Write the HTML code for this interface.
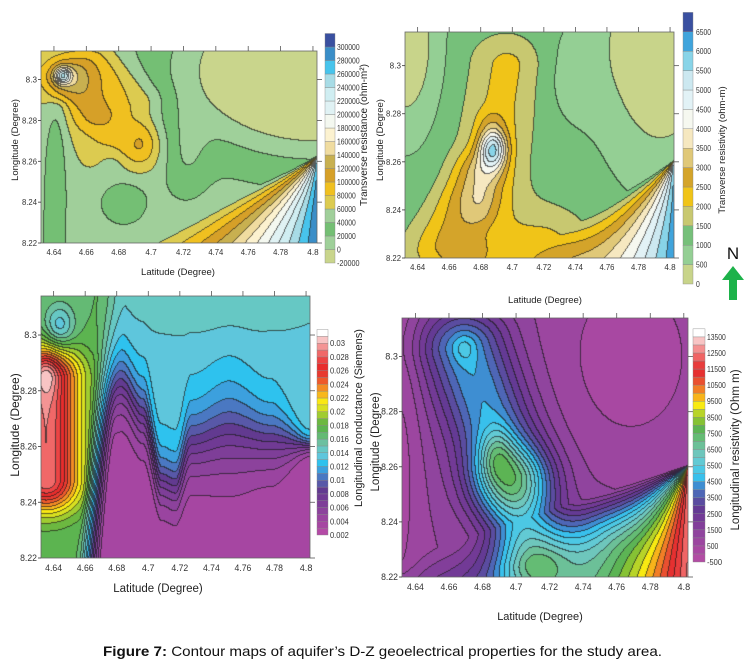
<!DOCTYPE html>
<html><head><meta charset="utf-8">
<style>
html,body{margin:0;padding:0;background:#fff;}
#wrap{position:relative;width:745px;height:662px;overflow:hidden;font-family:"Liberation Sans",sans-serif;}
canvas{position:absolute;}
svg{position:absolute;left:0;top:0;}
</style></head>
<body>
<div id="wrap">
<canvas id="c1"></canvas>
<canvas id="c2"></canvas>
<canvas id="c3"></canvas>
<canvas id="c4"></canvas>
<svg id="ov" width="745" height="662">
  <g>
    <text x="733" y="259" font-size="17" text-anchor="middle" fill="#111">N</text>
    <polygon points="733,266 744,280 737,280 737,300 729,300 729,280 722,280" fill="#1db24a"/>
  </g>
  <text x="103" y="656" font-size="14" fill="#111" textLength="559" lengthAdjust="spacingAndGlyphs"><tspan font-weight="bold">Figure 7:</tspan> Contour maps of aquifer’s D-Z geoelectrical properties for the study area.</text>
</svg>
</div>
<script>
// ---- shared axis data ----
const xTicks = [4.64,4.66,4.68,4.7,4.72,4.74,4.76,4.78,4.8];
const yTicks = [8.22,8.24,8.26,8.28,8.3];
const xDomain = [4.632,4.8025];
const yDomain = [8.22,8.314];

// ---- colorbar data ----
const cb1Levels = [-20000,0,20000,40000,60000,80000,100000,120000,140000,160000,180000,200000,220000,240000,260000,280000,300000];
const cb1Colors = ['#c9d58c','#9fd09a','#74bf74','#a0cf9a','#dccb50','#f0c020','#d6a028','#c8b050','#f0dca0','#fcf2d0','#f4f8f0','#e0f2f4','#d0eef2','#a8dce6','#48c4ec','#3a8ec8','#3a50a0'];
const cb2Levels = [0,500,1000,1500,2000,2500,3000,3500,4000,4500,5000,5500,6000,6500];
const cb2Colors = ['#c8d48a','#94cf94','#76c07a','#c8c870','#f0c418','#d4a42a','#e0c878','#f6e8c0','#f6f8f0','#e2f2f6','#cce8f0','#88d4e8','#40a4dc','#3a50a0'];
const cb3Labels = ['0.002','0.004','0.006','0.008','0.01','0.012','0.014','0.016','0.018','0.02','0.022','0.024','0.026','0.028','0.03'];
const cb3Colors = ['#b44aa6','#a646a2','#9a44a0','#8c429c','#7e3e98','#703a94','#623a90','#5858a8','#4a78c2','#3ca0de','#2ec2ee','#5ec6dc','#66c8c4','#6cc0a0','#64ba74','#5cb450','#6cb840','#a0cc30','#d8e020','#fae814','#f8b81c','#f48c24','#ee5a2c','#e83a30','#e82c2c','#ec4444','#f06868','#f49494','#f8c4c4','#ffffff'];
const cb4Labels = [-500,500,1500,2500,3500,4500,5500,6500,7500,8500,9500,10500,11500,12500,13500];
const cb4Colors = ['#b24ca4','#a848a2','#9c46a0','#90449e','#823e9a','#723a96','#643a94','#5a4ca0','#4e66b6','#3e8ed2','#38c0ec','#4cc8e4','#62cad4','#6ec6bc','#6cc098','#64bc74','#5cb454','#86c234','#b8d428','#f8ea12','#f8b41a','#f27e26','#ea5030','#e63030','#e83c3c','#f06464','#f49090','#f8c4c4','#ffffff'];

const NS='http://www.w3.org/2000/svg';
const ov=document.getElementById('ov');
function mk(tag,attrs,parent){const e=document.createElementNS(NS,tag);for(const k in attrs)e.setAttribute(k,attrs[k]);(parent||ov).appendChild(e);return e;}

const panels=[
 {id:'c1',x:41,y:51,w:276,h:192,fs:8,colors:cb1Colors,
  terms:[{t:'base',a:3.5},{t:'g',x:1.0,y:0.1,sx:0.32,sy:0.28,a:-6},{t:'g',x:0.52,y:0.55,sx:0.06,sy:0.15,a:-1.3},
   {t:'seg',x1:0.06,y1:0.3,x2:0.05,y2:1.0,w:0.03,a:-1.2},
   {t:'seg',x1:0.12,y1:0.12,x2:0.3,y2:0.5,w:0.11,a:2.0},{t:'seg',x1:0.2,y1:0.05,x2:0.36,y2:0.25,w:0.06,a:1.0},
   {t:'seg',x1:0.1,y1:0.14,x2:0.2,y2:0.33,w:0.06,a:1.2},
   {t:'g',x:0.1,y:0.14,sx:0.06,sy:0.06,a:1.5},{t:'g',x:0.08,y:0.13,sx:0.02,sy:0.03,a:5.5},{t:'g',x:0.37,y:0.47,sx:0.04,sy:0.08,a:1.3},
   {t:'g',x:0.26,y:0.58,sx:0.04,sy:0.05,a:-1.0},
   {t:'g',x:0.3,y:0.78,sx:0.06,sy:0.09,a:-1.3},{t:'fan',px:1,py:0.55,p0:36,k:0.23}]},
 {id:'c2',x:405,y:32,w:269,h:226,fs:8,colors:cb2Colors,
  terms:[{t:'base',a:2.5},{t:'g',x:0,y:0.05,sx:0.09,sy:0.28,a:-2.5},{t:'g',x:0.95,y:0.0,sx:0.16,sy:0.42,a:-2.8},
   {t:'g',x:0.62,y:0.2,sx:0.08,sy:0.15,a:-0.8},
   {t:'seg',x1:0.38,y1:0.15,x2:0.3,y2:0.72,w:0.09,a:1.8},{t:'seg',x1:0.28,y1:1.0,x2:0.5,y2:0.98,w:0.13,a:2.2},
   {t:'seg',x1:0.18,y1:0.95,x2:0.28,y2:0.65,w:0.07,a:1.6},{t:'seg',x1:0.0,y1:1.05,x2:0.25,y2:0.6,w:0.06,a:0.8},
   {t:'seg',x1:0.32,y1:0.4,x2:0.28,y2:0.8,w:0.04,a:0.9},{t:'g',x:0.33,y:0.52,sx:0.035,sy:0.06,a:6},{t:'fan',px:1,py:0.57,p0:38,k:0.2}]},
 {id:'c3',x:41,y:296,w:269,h:262,fs:9,colors:cb3Colors,custom:true},
 {id:'c4',x:402,y:318,w:286,h:259,fs:9,colors:cb4Colors,
  terms:[{t:'base',a:3},{t:'g',x:0.8,y:0.15,sx:0.2,sy:0.3,a:-1.5},{t:'g',x:0,y:0.5,sx:0.05,sy:0.6,a:-1.3},
   {t:'seg',x1:0.22,y1:0.12,x2:0.38,y2:0.62,w:0.11,a:7},{t:'seg',x1:0.38,y1:0.62,x2:0.45,y2:0.93,w:0.09,a:6},
   {t:'seg',x1:0.5,y1:0.95,x2:0.7,y2:0.85,w:0.1,a:2},{t:'g',x:0.33,y:0.52,sx:0.04,sy:0.07,a:3},
   {t:'g',x:0.22,y:0.12,sx:0.03,sy:0.04,a:1.5},{t:'fan',px:1,py:0.57,p0:20,k:0.33}]}
];

function segD(u,v,x1,y1,x2,y2){const dx=x2-x1,dy=y2-y1;let t=((u-x1)*dx+(v-y1)*dy)/(dx*dx+dy*dy);t=Math.max(0,Math.min(1,t));const ex=u-(x1+t*dx),ey=v-(y1+t*dy);return Math.sqrt(ex*ex+ey*ey);}
function evalTerms(terms,u,v){let f=0;for(const T of terms){
 if(T.t==='base')f+=T.a;
 else if(T.t==='g')f+=T.a*Math.exp(-((u-T.x)**2/(2*T.sx*T.sx)+(v-T.y)**2/(2*T.sy*T.sy)));
 else if(T.t==='seg'){const d=segD(u,v,T.x1,T.y1,T.x2,T.y2);f+=T.a*Math.exp(-d*d/(2*T.w*T.w));}
 else if(T.t==='fan'){if(v>T.py){const ph=Math.atan2(v-T.py,T.px-u)*180/Math.PI;f+=Math.max(0,ph-T.p0)*T.k;}}
}return f;}
const vcU=[0.2,0.3,0.38,0.45,0.5,0.56,0.7,0.85,1.0];
const vcV=[0.35,0.34,0.45,0.7,0.72,0.56,0.52,0.55,0.57];
const vcS=[0.1,0.08,0.08,0.07,0.07,0.09,0.11,0.08,0.02];
function interp(xs,ys,x){if(x<=xs[0])return ys[0];for(let i=1;i<xs.length;i++){if(x<=xs[i]){let t=(x-xs[i-1])/(xs[i]-xs[i-1]);t=t*t*(3-2*t);return ys[i-1]+t*(ys[i]-ys[i-1]);}}return ys[ys.length-1];}
function sstep(a,b,x){const t=Math.max(0,Math.min(1,(x-a)/(b-a)));return t*t*(3-2*t);}
function f3(u,v){
 const vc=interp(vcU,vcV,u),s=interp(vcU,vcS,u);
 let r=3+10.5/(1+Math.exp(-(vc-v)/s));
 r+=1.2*Math.exp(-((u-0.65)**2/(2*0.12)+(v)**2/(2*0.015)));
 const w=1-sstep(0.17,0.28,u+0.08*(v-0.5));
 let L=17;
 L+=12*Math.exp(-(segD(u,v,0.02,0.32,0.02,0.7)**2)/(2*0.008));
 L+=2*Math.exp(-((u-0.02)**2/(2*0.0009)+(v-0.3)**2/(2*0.0036)));
 L+=-4*Math.exp(-((u-0.07)**2/(2*0.0016)+(v-0.12)**2/(2*0.0036)));
 return (r*(1-w)+L*w)-2;
}
function hex(c){return [parseInt(c.slice(1,3),16),parseInt(c.slice(3,5),16),parseInt(c.slice(5,7),16)];}
function condensed(t,fs){t.setAttribute('textLength',(t.textContent.length*fs*0.47).toFixed(1));t.setAttribute('lengthAdjust','spacingAndGlyphs');}

panels.forEach((P,pi)=>{
 const cv=document.getElementById(P.id);cv.width=P.w;cv.height=P.h;cv.style.left=P.x+'px';cv.style.top=P.y+'px';
 const ctx=cv.getContext('2d');const img=ctx.createImageData(P.w,P.h);
 const n=P.colors.length;const cols=P.colors.map(hex);
 const band=new Int16Array(P.w*P.h);
 for(let j=0;j<P.h;j++)for(let i=0;i<P.w;i++){const u=(i+0.5)/P.w,v=(j+0.5)/P.h;
  const f=P.custom?f3(u,v):evalTerms(P.terms,u,v);band[j*P.w+i]=Math.max(0,Math.min(n-1,Math.floor(f)));}
 for(let j=0;j<P.h;j++)for(let i=0;i<P.w;i++){const k=j*P.w+i,b=band[k];let c=cols[b];
  const edge=(i<P.w-1&&band[k+1]!==b)||(j<P.h-1&&band[k+P.w]!==b);
  const o=k*4;if(edge){img.data[o]=c[0]*0.3+20;img.data[o+1]=c[1]*0.3+20;img.data[o+2]=c[2]*0.3+20;}else{img.data[o]=c[0];img.data[o+1]=c[1];img.data[o+2]=c[2];}img.data[o+3]=255;}
 ctx.putImageData(img,0,0);
 const g=mk('g',{});
 
 
 mk('rect',{x:P.x,y:P.y,width:P.w,height:P.h,fill:'none',stroke:'#666','stroke-width':0.8},g);
 const sx=x=>P.x+(x-xDomain[0])/(xDomain[1]-xDomain[0])*P.w;
 const sy=y=>P.y+P.h-(y-yDomain[0])/(yDomain[1]-yDomain[0])*P.h;
 xTicks.forEach(t=>{const X=sx(t);
  mk('line',{x1:X,x2:X,y1:P.y,y2:P.y-5,stroke:'#555','stroke-width':0.8},g);
  const tx=mk('text',{x:X,y:P.y+P.h+P.fs+4,'font-size':P.fs,'text-anchor':'middle',fill:'#333'},g);tx.textContent=String(t);condensed(tx,P.fs);
  
  });
 yTicks.forEach(t=>{const Y=sy(t);
  mk('line',{x1:P.x+P.w,x2:P.x+P.w+5,y1:Y,y2:Y,stroke:'#555','stroke-width':0.8},g);
  mk('line',{x1:P.x-3,x2:P.x,y1:Y,y2:Y,stroke:'#333','stroke-width':0.8},g);
  const tx=mk('text',{x:P.x-4,y:Y+3,'font-size':P.fs,'text-anchor':'end',fill:'#333'},g);tx.textContent=String(t);condensed(tx,P.fs);
  
  });
});

const titles=[
 ['x-axis-title-1','Latitude (Degree)',178,275,9.5,0],['x-axis-title-2','Latitude (Degree)',545,303,9.5,0],
 ['x-axis-title-3','Latitude (Degree)',158,592,11.5,0],['x-axis-title-4','Latitude (Degree)',540,620,11,0],
 ['y-axis-title-1','Longitude (Degree)',18,140,9.5,1],['y-axis-title-2','Longitude (Degree)',383,140,9.5,1],
 ['y-axis-title-3','Longitude (Degree)',19,425,12,1],['y-axis-title-4','Longitude (Degree)',379,442,11.5,1],
 ['colorbar-title-1','Transverse resistance (ohm-m²)',367,135,10,1],['colorbar-title-2','Transverse resistivity (ohm-m)',725,150,9.5,1],
 ['colorbar-title-3','Longitudinal conductance (Siemens)',362,418,11,1],['colorbar-title-4','Longitudinal resistivity (Ohm m)',739,450,11.5,1]];
titles.forEach(T=>{const t=mk('text',{x:T[2],y:T[3],'font-size':T[4],'text-anchor':'middle',fill:'#222',transform:T[5]?`rotate(-90 ${T[2]} ${T[3]})`:''});
 t.textContent=T[1];
 
 });

function colorbar(name,x,w,yBottom,cell,colors,labels,labelStep,fs,lx){
 const g=mk('g',{});
 
 
 colors.forEach((c,i)=>{mk('rect',{x:x,y:yBottom-(i+1)*cell,width:w,height:cell,fill:c,stroke:'#888','stroke-width':0.4},g);});
 labels.forEach((l,i)=>{const t=mk('text',{x:lx,y:yBottom-i*labelStep*cell+3,'font-size':fs,fill:'#333'},g);t.textContent=String(l);condensed(t,fs);
  
  });
}
colorbar('colorbar-1',325,10,263,13.5,cb1Colors,cb1Levels,1,8,337);
colorbar('colorbar-2',683,10,284,19.4,cb2Colors,cb2Levels,1,8,696);
colorbar('colorbar-3',317,11,535,6.85,cb3Colors,cb3Labels,2,8,330);
colorbar('colorbar-4',693,12,562,8.04,cb4Colors,cb4Labels,2,8,707);
</script>
</body></html>
